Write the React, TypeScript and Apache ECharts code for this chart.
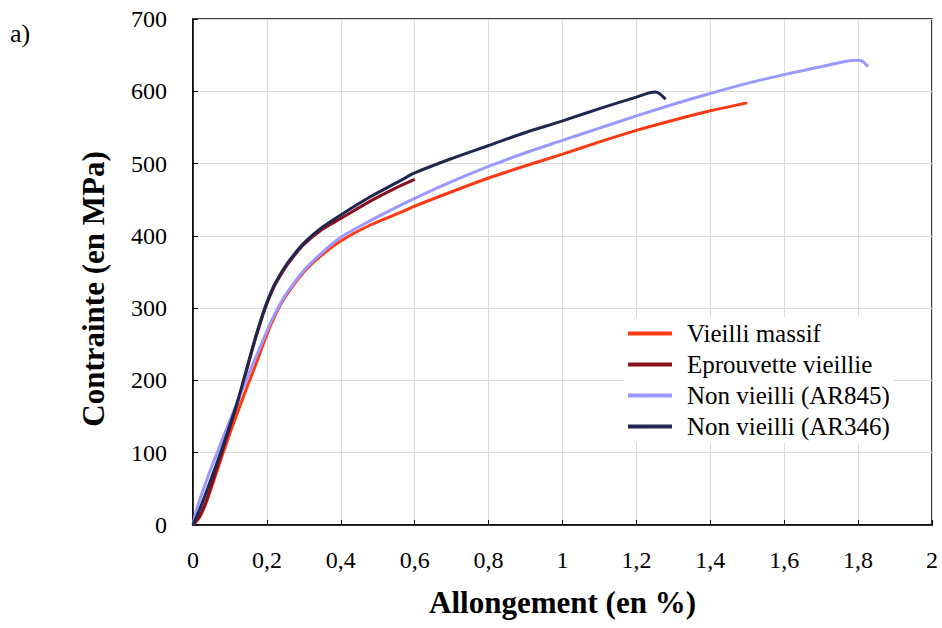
import React, { useEffect, useRef } from "react";
import * as echarts from "echarts";

const seriesNames = ["Vieilli massif", "Eprouvette vieillie", "Non vieilli (AR845)", "Non vieilli (AR346)"];
const seriesColors = ["#ff3a12", "#8a0f1c", "#9b98ff", "#1f2650"];

const vieilliMassif: [number, number][] = [
  [0, 0], [0.018, 11], [0.035, 30], [0.054, 58], [0.075, 90], [0.1, 127], [0.144, 188], [0.17, 222],
  [0.19, 250], [0.21, 276], [0.23, 298], [0.25, 316], [0.3, 350], [0.35, 374], [0.4, 393], [0.48, 415],
  [0.56, 432], [0.6, 441], [0.7, 461], [0.8, 480], [0.9, 497], [1.0, 513], [1.1, 530], [1.2, 546],
  [1.3, 560], [1.4, 573], [1.5, 584],
];
const eprouvetteVieillie: [number, number][] = [
  [0, 0], [0.018, 12], [0.035, 32], [0.05, 55], [0.08, 103], [0.12, 168], [0.15, 223], [0.167, 254],
  [0.185, 284], [0.2, 306], [0.22, 330], [0.24, 348], [0.261, 364], [0.3, 388], [0.35, 409], [0.4, 424],
  [0.48, 448], [0.54, 464], [0.6, 478],
];
const nonVieilliAR845: [number, number][] = [
  [0, 0], [0.01, 22], [0.03, 52], [0.05, 80], [0.1, 145], [0.15, 208], [0.17, 232], [0.19, 256],
  [0.21, 280], [0.23, 300], [0.25, 318], [0.3, 352], [0.35, 377], [0.4, 398], [0.48, 421], [0.56, 442],
  [0.6, 452], [0.7, 475], [0.8, 496], [0.9, 515], [1.0, 532], [1.1, 549], [1.2, 566], [1.3, 582],
  [1.4, 597], [1.5, 611], [1.6, 623], [1.7, 634], [1.795, 643], [1.81, 642], [1.827, 634],
];
const nonVieilliAR346: [number, number][] = [
  [0, 0], [0.01, 12], [0.02, 24], [0.05, 65], [0.08, 108], [0.12, 170], [0.15, 225], [0.167, 256],
  [0.185, 286], [0.2, 308], [0.22, 332], [0.24, 350], [0.261, 366], [0.3, 390], [0.35, 412], [0.4, 429],
  [0.48, 454], [0.56, 476], [0.6, 487], [0.7, 507], [0.8, 525], [0.9, 543], [1.0, 559], [1.1, 576],
  [1.2, 592], [1.25, 599], [1.262, 597], [1.279, 589],
];
const seriesData = [vieilliMassif, eprouvetteVieillie, nonVieilliAR845, nonVieilliAR346];

const yTitle = "Contrainte (en MPa)";
const xTitle = "Allongement (en %)";
const panelLabel = "a)";

const serif = "Liberation Serif";

export default function App() {
  const ref = useRef<HTMLDivElement>(null);
  useEffect(() => {
    if (!ref.current) return;
    const chart = echarts.init(ref.current, null, { renderer: "svg" });
    chart.setOption({
      animation: false,
      backgroundColor: "#ffffff",
      textStyle: { fontFamily: serif },
      grid: {
        left: 193, right: 10, top: 19, bottom: 103,
        show: true, borderColor: "#000", borderWidth: 1.5,
      },
      graphic: [
        {
          type: "text", left: 10, top: 20,
          style: { text: panelLabel, fontFamily: serif, fontSize: 26, fill: "#000" },
        },
        {
          type: "text", x: 93, y: 289, rotation: Math.PI / 2,
          style: {
            text: yTitle, fontFamily: serif, fontSize: 31, fontWeight: "bold", fill: "#000",
            textAlign: "center", textVerticalAlign: "middle",
          },
        },
      ],
      legend: {
        data: seriesNames,
        left: 624, top: 317,
        orient: "vertical",
        icon: "rect",
        itemWidth: 44, itemHeight: 4, itemGap: 6,
        backgroundColor: "#fff",
        padding: [4, 4, 4, 4],
        textStyle: { fontFamily: serif, fontSize: 25, color: "#000", padding: [0, 0, 0, 10] },
      },
      xAxis: {
        type: "value", min: 0, max: 2, interval: 0.2,
        name: xTitle, nameLocation: "middle", nameGap: 62,
        nameTextStyle: { fontFamily: serif, fontSize: 31, fontWeight: "bold", color: "#000" },
        axisLine: { lineStyle: { color: "#000", width: 1.5 } },
        axisTick: { show: true, inside: true, length: 5, lineStyle: { color: "#000" } },
        axisLabel: {
          fontFamily: serif, fontSize: 24, color: "#000", margin: 23,
          formatter: (v: number) => String(+v.toFixed(1)).replace(".", ","),
        },
        splitLine: { show: true, lineStyle: { color: "#dcdcdc", width: 1 } },
      },
      yAxis: {
        type: "value", min: 0, max: 700, interval: 100,
        axisLine: { show: true, lineStyle: { color: "#000", width: 1.5 } },
        axisTick: { show: true, inside: true, length: 5, lineStyle: { color: "#000" } },
        axisLabel: { fontFamily: serif, fontSize: 24, color: "#000", margin: 26 },
        splitLine: { show: true, lineStyle: { color: "#dcdcdc", width: 1 } },
      },
      series: seriesNames.map((name, i) => ({
        name,
        type: "line",
        data: seriesData[i],
        showSymbol: false,
        smooth: 0.3,
        color: seriesColors[i],
        lineStyle: { width: 3, color: seriesColors[i] },
        z: 2 + i,
      })),
    });
    return () => chart.dispose();
  }, []);
  return <div ref={ref} style={{ width: 942, height: 628, position: "absolute", left: 0, top: 0 }} />;
}
